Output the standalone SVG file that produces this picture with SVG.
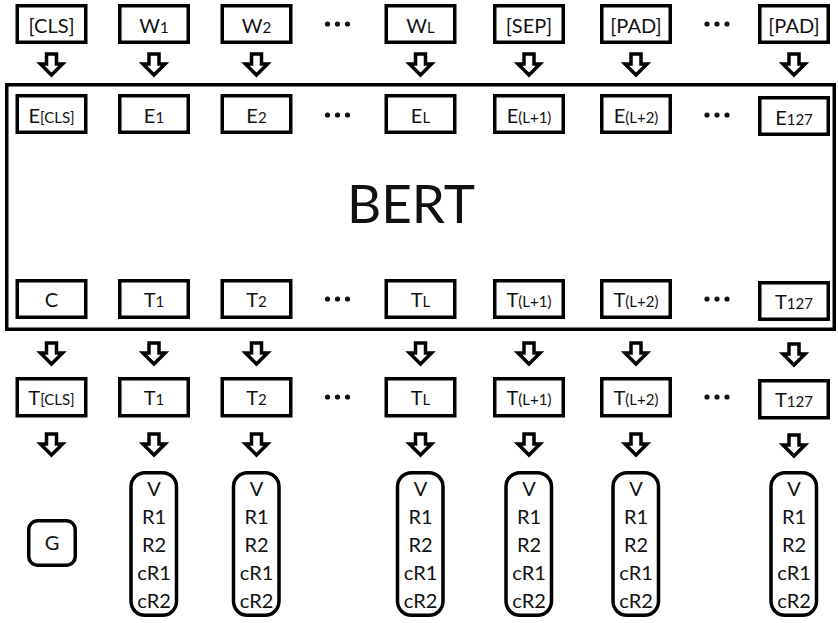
<svg xmlns="http://www.w3.org/2000/svg" width="838" height="623" viewBox="0 0 838 623">
<style>
.b{fill:#fff;stroke:#000;stroke-width:3.5}
.t{font-family:Lato,"Liberation Sans",sans-serif;font-size:20px;fill:#111;text-anchor:middle}
.s{font-size:15px}
.a{fill:#fff;stroke:#000;stroke-width:3.5;stroke-linejoin:miter}
.d{fill:#111}
</style>
<defs>
<path id="arr" class="a" d="M-5,0 h10 v10 h6 l-11,11 l-11,-11 h6 z"/>
<g id="dots"><circle cx="-10" cy="0" r="2.6"/><circle cx="0" cy="0" r="2.6"/><circle cx="10" cy="0" r="2.6"/></g>
</defs>
<rect width="838" height="623" fill="#fff"/>

<g id="bert">
<rect class="b" x="6.75" y="84.75" width="827.5" height="244.5"/>
<text class="t" x="411" y="223" style="font-size:53px">BERT</text>
</g>

<g id="w_cls"><rect class="b" x="17.25" y="5.75" width="68.5" height="36.5"/><text class="t" x="51.5" y="33">[CLS]</text></g>
<g id="w_1"><rect class="b" x="119.75" y="5.75" width="68.5" height="36.5"/><text class="t" x="154" y="33">W<tspan class="s">1</tspan></text></g>
<g id="w_2"><rect class="b" x="222.25" y="5.75" width="68.5" height="36.5"/><text class="t" x="256.5" y="33">W<tspan class="s">2</tspan></text></g>
<g id="w_L"><rect class="b" x="386.25" y="5.75" width="68.5" height="36.5"/><text class="t" x="420.5" y="33">W<tspan class="s">L</tspan></text></g>
<g id="w_sep"><rect class="b" x="494.75" y="5.75" width="68.5" height="36.5"/><text class="t" x="529" y="33">[SEP]</text></g>
<g id="w_pad1"><rect class="b" x="601.75" y="5.75" width="68.5" height="36.5"/><text class="t" x="636" y="33">[PAD]</text></g>
<g id="w_pad2"><rect class="b" x="759.75" y="5.75" width="68.5" height="36.5"/><text class="t" x="794" y="33">[PAD]</text></g>

<g id="e_cls"><rect class="b" x="17.25" y="95.75" width="68.5" height="36.5"/><text class="t" x="51.5" y="123">E<tspan class="s">[CLS]</tspan></text></g>
<g id="e_1"><rect class="b" x="119.75" y="95.75" width="68.5" height="36.5"/><text class="t" x="154" y="123">E<tspan class="s">1</tspan></text></g>
<g id="e_2"><rect class="b" x="222.25" y="95.75" width="68.5" height="36.5"/><text class="t" x="256.5" y="123">E<tspan class="s">2</tspan></text></g>
<g id="e_L"><rect class="b" x="386.25" y="95.75" width="68.5" height="36.5"/><text class="t" x="420.5" y="123">E<tspan class="s">L</tspan></text></g>
<g id="e_L1"><rect class="b" x="494.75" y="95.75" width="68.5" height="36.5"/><text class="t" x="529" y="123">E<tspan class="s">(L+1)</tspan></text></g>
<g id="e_L2"><rect class="b" x="601.75" y="95.75" width="68.5" height="36.5"/><text class="t" x="636" y="123">E<tspan class="s">(L+2)</tspan></text></g>
<g id="e_127"><rect class="b" x="759.75" y="97.75" width="68.5" height="36.5"/><text class="t" x="794" y="125">E<tspan class="s">127</tspan></text></g>

<g id="h_c"><rect class="b" x="17.25" y="280.75" width="68.5" height="36.5"/><text class="t" x="51.5" y="307">C</text></g>
<g id="h_1"><rect class="b" x="119.75" y="280.75" width="68.5" height="36.5"/><text class="t" x="154" y="307">T<tspan class="s">1</tspan></text></g>
<g id="h_2"><rect class="b" x="222.25" y="280.75" width="68.5" height="36.5"/><text class="t" x="256.5" y="307">T<tspan class="s">2</tspan></text></g>
<g id="h_L"><rect class="b" x="386.25" y="280.75" width="68.5" height="36.5"/><text class="t" x="420.5" y="307">T<tspan class="s">L</tspan></text></g>
<g id="h_L1"><rect class="b" x="494.75" y="280.75" width="68.5" height="36.5"/><text class="t" x="529" y="307">T<tspan class="s">(L+1)</tspan></text></g>
<g id="h_L2"><rect class="b" x="601.75" y="280.75" width="68.5" height="36.5"/><text class="t" x="636" y="307">T<tspan class="s">(L+2)</tspan></text></g>
<g id="h_127"><rect class="b" x="759.75" y="282.75" width="68.5" height="36.5"/><text class="t" x="794" y="309">T<tspan class="s">127</tspan></text></g>

<g id="o_cls"><rect class="b" x="17.25" y="378.75" width="68.5" height="37"/><text class="t" x="51.5" y="405">T<tspan class="s">[CLS]</tspan></text></g>
<g id="o_1"><rect class="b" x="119.75" y="378.75" width="68.5" height="37"/><text class="t" x="154" y="405">T<tspan class="s">1</tspan></text></g>
<g id="o_2"><rect class="b" x="222.25" y="378.75" width="68.5" height="37"/><text class="t" x="256.5" y="405">T<tspan class="s">2</tspan></text></g>
<g id="o_L"><rect class="b" x="386.25" y="378.75" width="68.5" height="37"/><text class="t" x="420.5" y="405">T<tspan class="s">L</tspan></text></g>
<g id="o_L1"><rect class="b" x="494.75" y="378.75" width="68.5" height="37"/><text class="t" x="529" y="405">T<tspan class="s">(L+1)</tspan></text></g>
<g id="o_L2"><rect class="b" x="601.75" y="378.75" width="68.5" height="37"/><text class="t" x="636" y="405">T<tspan class="s">(L+2)</tspan></text></g>
<g id="o_127"><rect class="b" x="759.75" y="380.75" width="68.5" height="37"/><text class="t" x="794" y="407">T<tspan class="s">127</tspan></text></g>

<g id="g"><rect class="b" x="28.75" y="520.75" width="46.5" height="44.5" rx="9"/><text class="t" x="52" y="550">G</text></g>
<g id="v_1"><rect class="b" x="131" y="472.75" width="45.5" height="142.5" rx="14"/><text class="t" x="154"><tspan x="154" y="496">V</tspan><tspan x="154" y="524">R1</tspan><tspan x="154" y="552">R2</tspan><tspan x="154" y="580">cR1</tspan><tspan x="154" y="608">cR2</tspan></text></g>
<g id="v_2"><rect class="b" x="233.5" y="472.75" width="45.5" height="142.5" rx="14"/><text class="t" x="256.5"><tspan x="256.5" y="496">V</tspan><tspan x="256.5" y="524">R1</tspan><tspan x="256.5" y="552">R2</tspan><tspan x="256.5" y="580">cR1</tspan><tspan x="256.5" y="608">cR2</tspan></text></g>
<g id="v_L"><rect class="b" x="397.5" y="472.75" width="45.5" height="142.5" rx="14"/><text class="t" x="420.5"><tspan x="420.5" y="496">V</tspan><tspan x="420.5" y="524">R1</tspan><tspan x="420.5" y="552">R2</tspan><tspan x="420.5" y="580">cR1</tspan><tspan x="420.5" y="608">cR2</tspan></text></g>
<g id="v_L1"><rect class="b" x="506" y="472.75" width="45.5" height="142.5" rx="14"/><text class="t" x="529"><tspan x="529" y="496">V</tspan><tspan x="529" y="524">R1</tspan><tspan x="529" y="552">R2</tspan><tspan x="529" y="580">cR1</tspan><tspan x="529" y="608">cR2</tspan></text></g>
<g id="v_L2"><rect class="b" x="613" y="472.75" width="45.5" height="142.5" rx="14"/><text class="t" x="636"><tspan x="636" y="496">V</tspan><tspan x="636" y="524">R1</tspan><tspan x="636" y="552">R2</tspan><tspan x="636" y="580">cR1</tspan><tspan x="636" y="608">cR2</tspan></text></g>
<g id="v_127"><rect class="b" x="771" y="472.75" width="45.5" height="142.5" rx="14"/><text class="t" x="794"><tspan x="794" y="496">V</tspan><tspan x="794" y="524">R1</tspan><tspan x="794" y="552">R2</tspan><tspan x="794" y="580">cR1</tspan><tspan x="794" y="608">cR2</tspan></text></g>

<g id="ellipses" class="d">
<use href="#dots" x="337.5" y="24"/><use href="#dots" x="717" y="24"/>
<use href="#dots" x="337.5" y="115"/><use href="#dots" x="717" y="115"/>
<use href="#dots" x="337.5" y="299"/><use href="#dots" x="717" y="299"/>
<use href="#dots" x="337.5" y="397"/><use href="#dots" x="717" y="397"/>
</g>

<g id="connectors">
<use href="#arr" x="51.5" y="54"/><use href="#arr" x="154" y="54"/><use href="#arr" x="256.5" y="54"/><use href="#arr" x="420.5" y="54"/><use href="#arr" x="529" y="54"/><use href="#arr" x="636" y="54"/><use href="#arr" x="794" y="54"/>
<use href="#arr" x="51.5" y="343"/><use href="#arr" x="154" y="343"/><use href="#arr" x="256.5" y="343"/><use href="#arr" x="420.5" y="343"/><use href="#arr" x="529" y="343"/><use href="#arr" x="636" y="343"/><use href="#arr" x="794" y="344"/>
<use href="#arr" x="51.5" y="434"/><use href="#arr" x="154" y="434"/><use href="#arr" x="256.5" y="434"/><use href="#arr" x="420.5" y="434"/><use href="#arr" x="529" y="434"/><use href="#arr" x="636" y="434"/><use href="#arr" x="794" y="435"/>
</g>
</svg>
